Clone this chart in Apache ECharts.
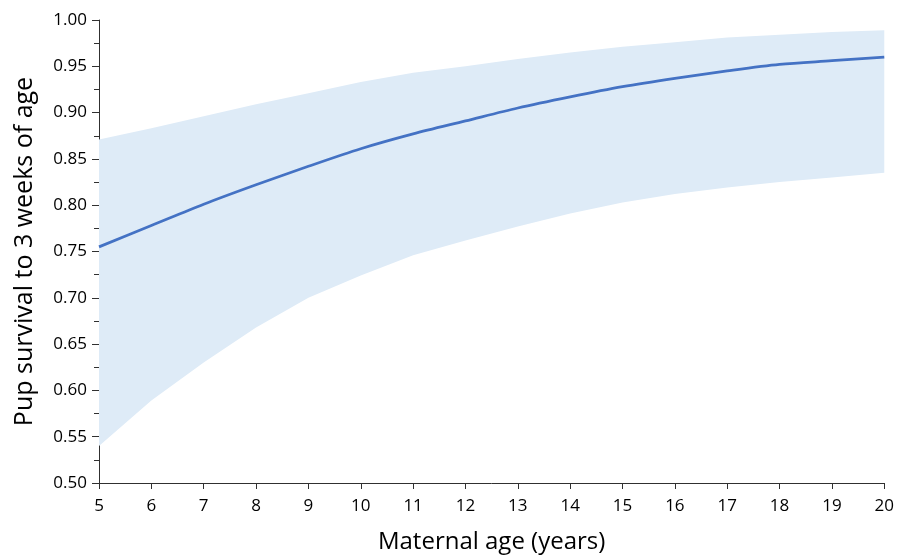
<!DOCTYPE html>
<html>
<head>
<meta charset="utf-8">
<script src="https://cdn.jsdelivr.net/npm/echarts@6/dist/echarts.min.js"></script>
<style>html,body{margin:0;padding:0;background:#fff;}#c{width:897px;height:559px;}</style>
</head>
<body>
<div id="c"></div>
<script>
const ages = ['5','6','7','8','9','10','11','12','13','14','15','16','17','18','19','20'];
const survival = [0.755,0.778,0.801,0.822,0.842,0.861,0.877,0.891,0.905,0.917,0.928,0.937,0.945,0.952,0.956,0.960];
const upperCI = [0.871,0.883,0.896,0.909,0.921,0.933,0.943,0.950,0.958,0.965,0.971,0.976,0.981,0.984,0.987,0.989];
const lowerCI = [0.540,0.589,0.630,0.668,0.700,0.724,0.746,0.762,0.777,0.791,0.803,0.812,0.819,0.825,0.830,0.835];
const yTicks = { min: 0.5, max: 1.0, interval: 0.05 };

const bandWidth = upperCI.map((u, i) => +(u - lowerCI[i]).toFixed(4));
const font = 'Open Sans';
const axisColor = '#303030';

const chart = echarts.init(document.getElementById('c'), null, { renderer: 'canvas' });
chart.setOption({
  animation: false,
  grid: { left: 99, right: 11, top: 20, bottom: 75, containLabel: false },
  xAxis: {
    type: 'category',
    data: ages,
    boundaryGap: false,
    name: 'Maternal age (years)',
    nameLocation: 'middle',
    nameGap: 47,
    nameTextStyle: { fontFamily: font, fontSize: 24, color: '#000' },
    axisLine: { lineStyle: { color: axisColor, width: 1 } },
    axisTick: { show: true, length: 6, inside: false, alignWithLabel: true, lineStyle: { color: axisColor } },
    axisLabel: { fontFamily: font, fontSize: 17, color: '#000', margin: 15, interval: 0 },
    splitLine: { show: false }
  },
  yAxis: {
    type: 'value',
    min: yTicks.min,
    max: yTicks.max,
    interval: yTicks.interval,
    name: 'Pup survival to 3 weeks of age',
    nameLocation: 'middle',
    nameGap: 62,
    nameTextStyle: { fontFamily: font, fontSize: 25, color: '#000' },
    axisLine: { show: true, lineStyle: { color: axisColor, width: 1 } },
    axisTick: { show: true, length: 7, lineStyle: { color: axisColor } },
    minorTick: { show: true, splitNumber: 2, length: 5, lineStyle: { color: axisColor } },
    axisLabel: { fontFamily: font, fontSize: 17, color: '#000', margin: 12, formatter: v => v.toFixed(2) },
    splitLine: { show: false },
    minorSplitLine: { show: false }
  },
  series: [
    {
      name: 'lower', type: 'line', data: lowerCI, stack: 'ci', symbol: 'none',
      lineStyle: { opacity: 0 }, areaStyle: { opacity: 0 }, silent: true, z: 1
    },
    {
      name: 'band', type: 'line', data: bandWidth, stack: 'ci', symbol: 'none',
      lineStyle: { opacity: 0 }, areaStyle: { color: '#DEEBF7', opacity: 1 }, silent: true, z: 1
    },
    {
      name: 'survival', type: 'line', data: survival, symbol: 'none', smooth: 0.3,
      lineStyle: { color: '#4472C4', width: 2.75 }, z: 3
    }
  ]
});
</script>
</body>
</html>
